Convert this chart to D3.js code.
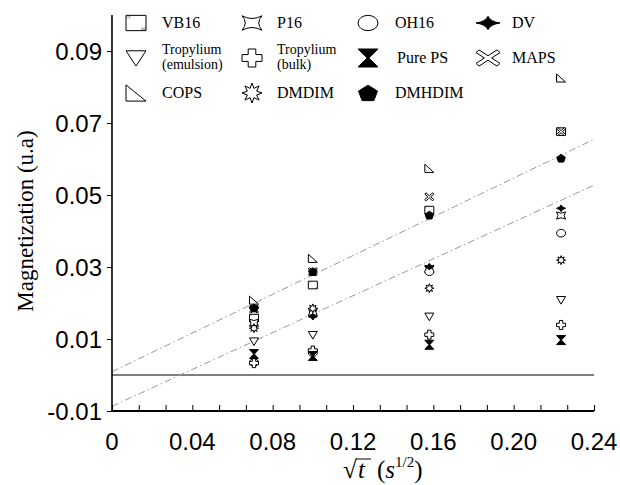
<!DOCTYPE html>
<html>
<head>
<meta charset="utf-8">
<script src="https://cdn.jsdelivr.net/npm/d3@7"></script>
<style>
  body { margin: 0; background: #fff; }
  svg { display: block; }
  .tick-label { font-family: "Liberation Sans", Arial, sans-serif; font-size: 24px; }
  .serif { font-family: "Liberation Serif", "Times New Roman", serif; }
</style>
</head>
<body>
<div id="chart"></div>
<script>
// Data
const sqrtT = [0.0707, 0.1, 0.158, 0.2236];
const series = ["VB16", "P16", "OH16", "DV", "TropEmul", "TropBulk", "PurePS", "MAPS", "COPS", "DMDIM", "DMHDIM"];
const VB16     = [0.0158, 0.0250, 0.0458, 0.0676];
const P16      = [0.0145, 0.0175, 0.0295, 0.0443];
const OH16     = [0.0035, 0.0062, 0.0287, 0.0394];
const DV       = [0.0185, 0.0162, 0.0301, 0.0463];
const TropEmul = [0.0093, 0.0111, 0.0162, 0.0208];
const TropBulk = [0.0033, 0.0068, 0.0112, 0.0139];
const PurePS   = [0.0058, 0.0053, 0.0084, 0.0097];
const MAPS     = [0.0183, 0.0287, 0.0495, 0.0676];
const COPS     = [0.0208, 0.0324, 0.0574, 0.0825];
const DMDIM    = [0.0130, 0.0185, 0.0241, 0.0319];
const DMHDIM   = [0.0186, 0.0287, 0.0444, 0.0602];
const values = { VB16, P16, OH16, DV, TropEmul, TropBulk, PurePS, MAPS, COPS, DMDIM, DMHDIM };

// Linear fits (intercept, slope)
const fitIntercepts = [0.0009, -0.0087];
const fitSlopes = [0.269, 0.256];

const xTicks = [0, 0.04, 0.08, 0.12, 0.16, 0.20, 0.24];
const xTickLabels = ["0", "0.04", "0.08", "0.12", "0.16", "0.20", "0.24"];
const yTicks = [0.09, 0.07, 0.05, 0.03, 0.01, -0.01];
const yTickLabels = ["0.09", "0.07", "0.05", "0.03", "0.01", "-0.01"];

// Legend order (rows of four) and labels
const legendRows = [
  [["VB16", ["VB16"]], ["P16", ["P16"]], ["OH16", ["OH16"]], ["DV", ["DV"]]],
  [["TropEmul", ["Tropylium", "(emulsion)"]], ["TropBulk", ["Tropylium", "(bulk)"]], ["PurePS", ["Pure PS"]], ["MAPS", ["MAPS"]]],
  [["COPS", ["COPS"]], ["DMDIM", ["DMDIM"]], ["DMHDIM", ["DMHDIM"]]]
];

let w = 620, h = 485;
let svg = d3.select("#chart").append("svg").attr("width", w).attr("height", h);

// Stipple pattern for VB16
let pat = svg.append("defs").append("pattern").attr("id", "dots")
  .attr("width", 4).attr("height", 4).attr("patternUnits", "userSpaceOnUse");
pat.append("rect").attr("width", 4).attr("height", 4).attr("fill", "#fff");
pat.append("rect").attr("x", 0.5).attr("y", 0.5).attr("width", 1).attr("height", 1).attr("fill", "#bbb");
pat.append("rect").attr("x", 2.5).attr("y", 2.5).attr("width", 1).attr("height", 1).attr("fill", "#ccc");

let x = d3.scaleLinear().domain([0, 0.24]).range([112, 594]);
let y = d3.scaleLinear().domain([-0.01, 0.10]).range([411, 15]);

// Symbol drawing: path in a unit box, scaled by sx, sy
function pts(arr) { return "M" + arr.map(p => p.join(",")).join("L") + "Z"; }
function symbolPath(type) {
  switch (type) {
    case "VB16": return pts([[-1, -0.85], [1, -0.85], [1, 0.85], [-1, 0.85]]);
    case "TropEmul": return pts([[-1, -0.8], [1, -0.8], [0, 0.9]]);
    case "COPS": return pts([[-1, -0.9], [1, 0.9], [-1, 0.9]]);
    case "P16": return "M-1,-0.8Q0,-0.2 1,-0.8Q0.35,0 1,0.8Q0,0.2 -1,0.8Q-0.35,0 -1,-0.8Z";
    case "DV": return "M0,-0.75Q0.2,-0.15 1,0Q0.2,0.15 0,0.75Q-0.2,0.15 -1,0Q-0.2,-0.15 0,-0.75Z";
    case "TropBulk": {
      let a = 0.38;
      return pts([[-a, -1], [a, -1], [a, -a], [1, -a], [1, a], [a, a], [a, 1], [-a, 1], [-a, a], [-1, a], [-1, -a], [-a, -a]]);
    }
    case "PurePS": return pts([[-1, -1], [1, -1], [0.08, 0], [1, 1], [-1, 1], [-0.08, 0]]);
    case "MAPS": return pts([[-1, -0.6], [-0.75, -0.9], [0, -0.25], [0.75, -0.9], [1, -0.6], [0.3, 0], [1, 0.6], [0.75, 0.9], [0, 0.25], [-0.75, 0.9], [-1, 0.6], [-0.3, 0]]);
    case "DMDIM": {
      let p = [];
      for (let i = 0; i < 16; i++) {
        let ang = i * Math.PI / 8 - Math.PI / 2, r = i % 2 ? 0.5 : 1;
        p.push([r * Math.cos(ang), r * Math.sin(ang)]);
      }
      return pts(p);
    }
    case "DMHDIM": {
      let p = [];
      for (let i = 0; i < 5; i++) {
        let ang = i * 2 * Math.PI / 5 - Math.PI / 2;
        p.push([Math.cos(ang), Math.sin(ang) * 0.95 + 0.08]);
      }
      return pts(p);
    }
  }
  return "";
}
const filled = { DV: true, PurePS: true, DMHDIM: true };

function drawSymbol(g, type, cx, cy, sx, sy, sw) {
  if (type === "OH16") {
    g.append("ellipse").attr("cx", cx).attr("cy", cy).attr("rx", sx).attr("ry", sy * 0.85)
      .attr("fill", "#fff").attr("stroke", "#000").attr("stroke-width", sw);
    return;
  }
  g.append("path").attr("d", symbolPath(type))
    .attr("transform", `translate(${cx},${cy}) scale(${sx},${sy})`)
    .attr("fill", filled[type] ? "#000" : (type === "VB16" ? "url(#dots)" : "#fff"))
    .attr("stroke", "#000")
    .attr("vector-effect", "non-scaling-stroke")
    .style("stroke-width", sw);
}

// Zero reference line
svg.append("line").attr("x1", x(0)).attr("x2", x(0.24)).attr("y1", y(0)).attr("y2", y(0))
  .attr("stroke", "#000").attr("stroke-width", 1.2);

// Fitted dash-dot lines
fitIntercepts.forEach((b, i) => {
  svg.append("line")
    .attr("x1", x(0)).attr("y1", y(b))
    .attr("x2", x(0.24)).attr("y2", y(b + fitSlopes[i] * 0.24))
    .attr("stroke", "#999").attr("stroke-width", 1)
    .attr("stroke-dasharray", "7,3,1.5,3");
});

// Axes
let yAxis = d3.axisLeft(y).tickValues(yTicks).tickSize(5).tickFormat((d, i) => yTickLabels[i]);
let gy = svg.append("g").attr("transform", `translate(${x(0)},0)`).call(yAxis);
gy.select(".domain").attr("d", `M0,${y(0.10)}V${y(-0.01)}`).attr("stroke-width", 1.6);
gy.selectAll(".tick text").attr("class", "tick-label").attr("x", -10).attr("dy", "0.35em").attr("fill", "#000");

let minor = d3.range(0, 18.5).map(i => i * 0.04 / 3);
let xAxis = d3.axisBottom(x).tickValues(minor).tickSize(-6).tickFormat("");
let gx = svg.append("g").attr("transform", `translate(0,${y(-0.01)})`).call(xAxis);
gx.select(".domain").attr("d", `M${x(0)},0H${x(0.24)}`).attr("stroke-width", 2);

svg.append("g").selectAll("text").data(xTicks).enter().append("text")
  .attr("class", "tick-label")
  .attr("x", d => x(d)).attr("y", 450).attr("text-anchor", "middle")
  .text((d, i) => xTickLabels[i]);

// Axis titles
svg.append("text").attr("class", "serif").attr("font-size", 23)
  .attr("transform", "translate(33,221) rotate(-90)").attr("text-anchor", "middle")
  .text("Magnetization (u.a)");

let xt = svg.append("g").attr("class", "serif").attr("font-size", 25);
xt.append("text").attr("x", 343).attr("y", 478).text("\u221A");
xt.append("line").attr("x1", 356).attr("x2", 371).attr("y1", 459).attr("y2", 459).attr("stroke", "#000").attr("stroke-width", 1);
let tt = xt.append("text").attr("x", 358).attr("y", 478).attr("font-style", "italic");
tt.append("tspan").text("t");
tt.append("tspan").attr("dx", 12).attr("font-style", "normal").text("(");
tt.append("tspan").text("s");
tt.append("tspan").attr("font-size", 15).attr("font-style", "normal").attr("dy", -11).text("1/2");
tt.append("tspan").attr("font-style", "normal").attr("dy", 11).text(")");

// Data points
let gp = svg.append("g");
series.forEach(s => {
  values[s].forEach((v, i) => drawSymbol(gp, s, x(sqrtT[i]), y(v), 4.5, 4.5, 1));
});

// Legend
const legSymX = [136, 252, 368, 488], legTextX = [162, 277, 395, 512], legRowY = [23, 58, 93];
let gl = svg.append("g").attr("class", "serif");
legendRows.forEach((row, r) => {
  row.forEach((entry, c) => {
    let [type, lines] = entry;
    let sx = 10, sy = 9;
    if (type === "MAPS" || type === "DV") { sx = 12; sy = 9; }
    if (type === "DMDIM") { sx = 10; sy = 10; }
    drawSymbol(gl, type, legSymX[c], legRowY[r], sx, sy, 1);
    if (lines.length === 1) {
      gl.append("text").attr("x", legTextX[c] + (type === "PurePS" ? 2 : 0)).attr("y", legRowY[r] + 5)
        .attr("font-size", 16).text(lines[0]);
    } else {
      lines.forEach((t, k) => gl.append("text").attr("x", legTextX[c]).attr("y", legRowY[r] - 4 + k * 15)
        .attr("font-size", 14).text(t));
    }
  });
});
</script>
</body>
</html>
